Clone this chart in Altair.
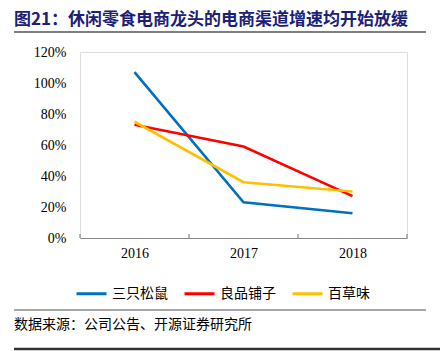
import altair as alt
import pandas as pd

years = [2016, 2017, 2018]
series_names = ["三只松鼠", "良品铺子", "百草味"]
sanzhi = [1.07, 0.23, 0.16]
liangpin = [0.73, 0.59, 0.27]
baicao = [0.75, 0.36, 0.30]
colors = ["#0070C0", "#FF0000", "#FFC000"]
y_ticks = [0, 0.2, 0.4, 0.6, 0.8, 1.0, 1.2]
band_edges = [2015.5, 2016.5, 2017.5, 2018.5]

title_text = "图21：休闲零食电商龙头的电商渠道增速均开始放缓"
source_text = "数据来源：公司公告、开源证券研究所"

rows = []
for name, vals in zip(series_names, [sanzhi, liangpin, baicao]):
    for yr, v in zip(years, vals):
        rows.append({"year": yr, "value": v, "series": name})
df = pd.DataFrame(rows)

W, H = 327, 186
SERIF = "Liberation Serif"
CJK = "Noto Sans CJK SC"

x_scale = alt.Scale(domain=[2015.5, 2018.5], nice=False, zero=False)
y_scale = alt.Scale(domain=[0, 1.2], nice=False)

lines = alt.Chart(df).mark_line(strokeWidth=2.6).encode(
    x=alt.X("year:Q", scale=x_scale,
            axis=alt.Axis(values=years, format="d", title=None, ticks=False,
                          grid=False, domainColor="#888888", domainWidth=1.2,
                          labelFont=SERIF, labelFontSize=14, labelColor="#000000",
                          labelPadding=8)),
    y=alt.Y("value:Q", scale=y_scale,
            axis=alt.Axis(values=y_ticks, format=".0%", title=None, ticks=False,
                          grid=False, domain=False, labelFont=SERIF,
                          labelFontSize=14, labelColor="#000000", labelPadding=14)),
    color=alt.Color("series:N", scale=alt.Scale(domain=series_names, range=colors),
                    sort=series_names,
                    legend=alt.Legend(orient="none", direction="horizontal",
                                      legendX=-5, legendY=225, title=None,
                                      symbolType="stroke", symbolSize=900,
                                      symbolStrokeWidth=3, labelFont=CJK,
                                      labelFontSize=14, labelColor="#000000",
                                      labelOffset=4, columnPadding=10,
                                      padding=0)),
)

ticks = alt.Chart(pd.DataFrame({"edge": band_edges})).mark_rule(
    color="#888888", strokeWidth=1.2
).encode(
    x=alt.X("edge:Q", scale=x_scale),
    y=alt.value(H),
    y2=alt.value(H - 4),
)

deco = pd.DataFrame({"k": [0]})
title = alt.Chart(deco).mark_text(
    text=title_text, font=CJK, fontSize=17, fontWeight="bold", color="#1B2078",
    align="left", baseline="middle"
).encode(x=alt.value(-66), y=alt.value(-32))

title_line = alt.Chart(deco).mark_rule(color="#555555", strokeWidth=1.5).encode(
    x=alt.value(-66), x2=alt.value(346), y=alt.value(-20))

src_line = alt.Chart(deco).mark_rule(color="#888888", strokeWidth=1.5).encode(
    x=alt.value(-66), x2=alt.value(346), y=alt.value(258))

src = alt.Chart(deco).mark_text(
    text=source_text, font=CJK, fontSize=14, color="#000000",
    align="left", baseline="middle"
).encode(x=alt.value(-66), y=alt.value(273))

bottom_line = alt.Chart(deco).mark_rule(color="#333333", strokeWidth=2.5).encode(
    x=alt.value(-66), x2=alt.value(360), y=alt.value(297))

chart = alt.layer(lines, ticks, title, title_line, src_line, src, bottom_line).properties(
    width=W, height=H,
    autosize=alt.AutoSizeParams(type="none"),
    padding={"left": 80, "top": 52, "right": 33, "bottom": 113},
).configure_view(stroke=None).configure(background="white")

chart.save("out.html", embed_options={"renderer": "svg", "actions": False})
